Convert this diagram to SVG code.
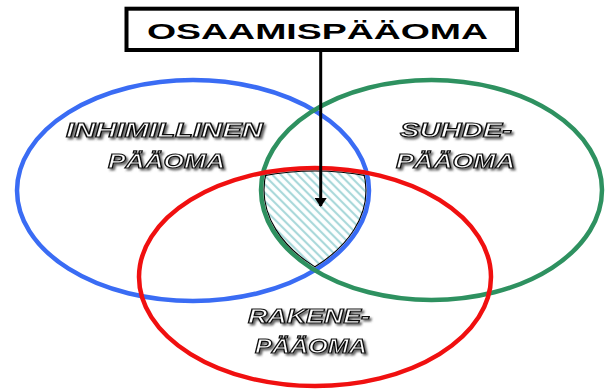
<svg xmlns="http://www.w3.org/2000/svg" width="605" height="391" viewBox="0 0 605 391">
  <style>
    .ring { fill: none; stroke-width: 4.5; }
    .lbl { font-family: "Liberation Sans", Arial, sans-serif; font-weight: bold; font-style: italic; font-size: 21px; fill: #ffffff; stroke: #111111; stroke-width: 1.2; text-anchor: middle; filter: url(#shadow); }
    .title { font-family: "Liberation Sans", Arial, sans-serif; font-weight: bold; font-size: 22px; fill: #000000; text-anchor: middle; }
    .outline { fill: none; stroke: #000000; stroke-width: 1.1; }
  </style>
  <defs>
    <filter id="shadow" x="-10%" y="-30%" width="130%" height="180%">
      <feDropShadow dx="2" dy="2" stdDeviation="1" flood-color="#555555" flood-opacity="0.9"/>
    </filter>
    <pattern id="hatch" patternUnits="userSpaceOnUse" width="6" height="6" patternTransform="rotate(45)">
      <line x1="0" y1="3" x2="6" y2="3" stroke="#A9D8DA" stroke-width="2.2"/>
    </pattern>
    <clipPath id="cB"><ellipse cx="193" cy="190.5" rx="173" ry="107.5"/></clipPath>
    <clipPath id="cG"><ellipse cx="431.5" cy="190" rx="167.5" ry="107"/></clipPath>
    <clipPath id="cR"><ellipse cx="315" cy="277" rx="173" ry="106"/></clipPath>
    <clipPath id="oB"><ellipse cx="193" cy="190.5" rx="173.6" ry="108.1"/></clipPath>
    <clipPath id="oG"><ellipse cx="431.5" cy="190" rx="168.1" ry="107.6"/></clipPath>
    <clipPath id="oR"><ellipse cx="315" cy="277" rx="173.6" ry="106.6"/></clipPath>
    <marker id="arrowhead" viewBox="0 0 9 12" refX="8" refY="6" markerWidth="9" markerHeight="12" markerUnits="userSpaceOnUse" orient="auto">
      <polygon points="0,0 9,6 0,12" fill="#000000"/>
    </marker>
  </defs>

  <rect width="605" height="391" fill="#ffffff"/>

  <g id="inhimillinen">
    <ellipse class="ring" cx="193" cy="190.5" rx="176" ry="110.5" stroke="#3A6CF4"/>
  </g>
  <g id="suhde">
    <ellipse class="ring" cx="431.5" cy="190" rx="170.5" ry="110" stroke="#2E9160"/>
  </g>
  <g id="rakenne">
    <ellipse class="ring" cx="315" cy="277" rx="176" ry="109" stroke="#F01010"/>
  </g>

  <g id="osaamispaaoma-area">
    <g clip-path="url(#cR)">
      <g clip-path="url(#cG)">
        <rect x="240" y="150" width="150" height="130" fill="url(#hatch)" clip-path="url(#cB)"/>
      </g>
    </g>
    <g clip-path="url(#oR)">
      <ellipse class="outline" cx="431.5" cy="190" rx="167.5" ry="107" clip-path="url(#oB)"/>
    </g>
    <g clip-path="url(#oR)">
      <ellipse class="outline" cx="193" cy="190.5" rx="173" ry="107.5" clip-path="url(#oG)"/>
    </g>
    <g clip-path="url(#oG)">
      <ellipse class="outline" cx="315" cy="277" rx="173" ry="106" clip-path="url(#oB)"/>
    </g>
  </g>

  <g id="labels">
    <text class="lbl" x="164.5" y="137" textLength="197" lengthAdjust="spacingAndGlyphs">INHIMILLINEN</text>
    <text class="lbl" x="166.5" y="168" textLength="117" lengthAdjust="spacingAndGlyphs">PÄÄOMA</text>
    <text class="lbl" x="456" y="137" textLength="112" lengthAdjust="spacingAndGlyphs">SUHDE-</text>
    <text class="lbl" x="455.5" y="168" textLength="119" lengthAdjust="spacingAndGlyphs">PÄÄOMA</text>
    <text class="lbl" x="309" y="323" textLength="122" lengthAdjust="spacingAndGlyphs">RAKENE-</text>
    <text class="lbl" x="311" y="353" textLength="112" lengthAdjust="spacingAndGlyphs">PÄÄOMA</text>
  </g>

  <g id="title">
    <rect x="126.5" y="8.7" width="390.5" height="41.3" fill="#ffffff" stroke="#000000" stroke-width="4"/>
    <text class="title" x="317.5" y="39.3" textLength="341" lengthAdjust="spacingAndGlyphs">OSAAMISPÄÄOMA</text>
  </g>

  <g id="connectors">
    <line x1="320.7" y1="51" x2="320.7" y2="206" stroke="#000000" stroke-width="3" marker-end="url(#arrowhead)"/>
  </g>
</svg>
